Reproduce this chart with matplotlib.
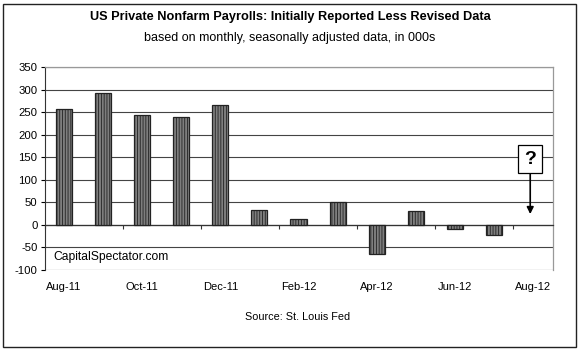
import matplotlib
matplotlib.use("Agg")
import matplotlib.pyplot as plt
from matplotlib.patches import Rectangle
from matplotlib.transforms import blended_transform_factory

categories = ["Aug-11", "Sep-11", "Oct-11", "Nov-11", "Dec-11", "Jan-12", "Feb-12",
              "Mar-12", "Apr-12", "May-12", "Jun-12", "Jul-12", "Aug-12"]
values = [256, 292, 244, 240, 266, 33, 13, 50, -65, 31, -10, -22, None]
yticks = [-100, -50, 0, 50, 100, 150, 200, 250, 300, 350]

plt.rcParams['font.family'] = ['Liberation Sans', 'DejaVu Sans']
plt.rcParams['hatch.color'] = '#a8a8a8'
plt.rcParams['hatch.linewidth'] = 0.6

fig = plt.figure(figsize=(5.8, 3.53), dpi=100)
fig.patch.set_facecolor('white')
ax = fig.add_axes([44.5/580, 1-270/353, 508/580, 203/353])

xs = [i for i, v in enumerate(values) if v is not None]
vs = [v for v in values if v is not None]
ax.bar(xs, vs, width=0.41, color='#7e7e7e', edgecolor='#222222', linewidth=0.9,
       hatch='||||||', zorder=3)

ax.set_xlim(-0.5, len(categories) - 0.5)
ax.set_ylim(-100, 350)
ax.set_yticks(yticks)
ax.set_yticklabels([str(t) for t in yticks], fontsize=8.2)
ax.tick_params(axis='y', length=3, width=0.8, pad=2, colors='black', direction='out')

for t in yticks[1:]:
    ax.axhline(t, color='#444444', linewidth=0.8, zorder=1)
ax.axhline(-100, color='#999999', linewidth=0.9, zorder=1)

for s in ['top', 'right']:
    ax.spines[s].set_color('#999999')
    ax.spines[s].set_linewidth(0.9)
ax.spines['left'].set_color('#333333')
ax.spines['bottom'].set_position(('data', 0))
ax.spines['bottom'].set_color('#333333')
ax.spines['bottom'].set_linewidth(0.9)

ax.set_xticks([k - 0.5 for k in range(0, len(categories) + 1, 2)])
ax.set_xticklabels([])
ax.tick_params(axis='x', length=3, width=0.8, direction='out', colors='#333333')

trans = blended_transform_factory(ax.transData, ax.transAxes)
for i in range(0, len(categories), 2):
    ax.text(i, -0.085, categories[i], transform=trans, ha='center', va='center', fontsize=8)

ax.text(0.017, 0.063, "CapitalSpectator.com", transform=ax.transAxes, ha='left', va='center',
        fontsize=8.7)

ax.annotate("?", xy=(11.93, 24), xytext=(11.93, 146), ha='center', va='center',
            fontsize=14, fontweight='bold', zorder=5,
            bbox=dict(boxstyle='square,pad=0.3', fc='white', ec='black', lw=0.9),
            arrowprops=dict(arrowstyle='-|>', color='black', lw=1.2, mutation_scale=10,
                            shrinkA=0, shrinkB=0))

fig.text(290/580, 1-17/353, "US Private Nonfarm Payrolls: Initially Reported Less Revised Data",
         ha='center', va='center', fontsize=9.2, fontweight='bold')
fig.text(290/580, 1-38/353, "based on monthly, seasonally adjusted data, in 000s",
         ha='center', va='center', fontsize=9)
fig.text(297.5/580, 1-317/353, "Source: St. Louis Fed", ha='center', va='center', fontsize=7.8)

fig.patches.append(Rectangle((3/580, 1-347/353), 573/580, 343/353, transform=fig.transFigure,
                             fill=False, ec='#222222', lw=1.0))

fig.savefig("out.png", dpi=100, facecolor='white')
